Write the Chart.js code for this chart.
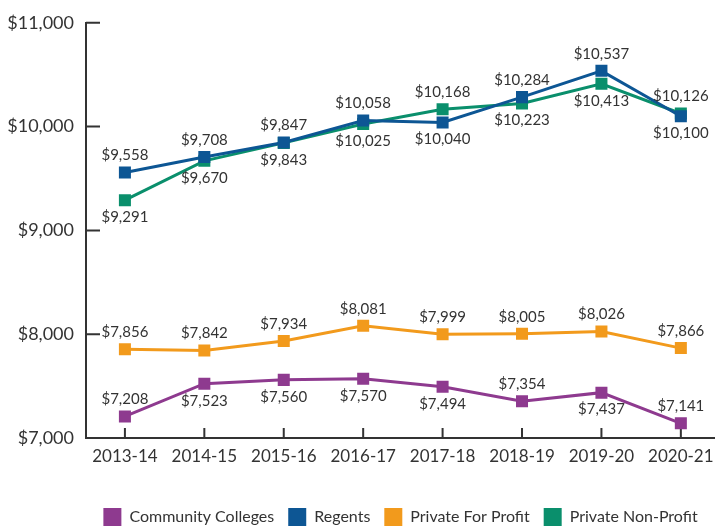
<!DOCTYPE html>
<html>
<head>
<meta charset="utf-8">
<script src="https://cdn.jsdelivr.net/npm/chart.js@4"></script>
<style>
  body { margin: 0; background: #fff; }
  #wrap { width: 715px; height: 529px; }
</style>
</head>
<body>
<div id="wrap"><canvas id="myChart" width="715" height="529"></canvas></div>
<script>
// categories + values
const years = ["2013-14", "2014-15", "2015-16", "2016-17", "2017-18", "2018-19", "2019-20", "2020-21"];
const community = [7208, 7523, 7560, 7570, 7494, 7354, 7437, 7141];
const regents = [9558, 9708, 9847, 10058, 10040, 10284, 10537, 10100];
const forProfit = [7856, 7842, 7934, 8081, 7999, 8005, 8026, 7866];
const nonProfit = [9291, 9670, 9843, 10025, 10168, 10223, 10413, 10126];

// where each value label sits: a = above, b = below
const communityPos = ["a", "b", "b", "b", "b", "a", "b", "a"];
const regentsPos = ["a", "a", "a", "a", "b", "a", "a", "b"];
const forProfitPos = ["a", "a", "a", "a", "a", "a", "a", "a"];
const nonProfitPos = ["b", "b", "b", "b", "a", "b", "b", "a"];

const yTicks = [7000, 8000, 9000, 10000, 11000];

const FONT = "Lato";
const TEXT = "#333333";

function series(label, values, color, pos) {
    return {
        label: label,
        data: values.map((v, i) => ({ x: i, y: v })),
        labelPos: pos,
        borderColor: color,
        backgroundColor: color,
        borderWidth: 3,
        pointStyle: "rect",
        pointRadius: 8.5,
        pointBorderWidth: 0,
        tension: 0
    };
}

// value labels above / below each marker
const valueLabels = {
    id: "valueLabels",
    afterDatasetsDraw(chart) {
        const ctx = chart.ctx;
        ctx.save();
        ctx.font = "15px " + FONT;
        ctx.fillStyle = TEXT;
        ctx.textAlign = "center";
        ctx.textBaseline = "middle";
        chart.data.datasets.forEach((ds, i) => {
            const meta = chart.getDatasetMeta(i);
            meta.data.forEach((pt, j) => {
                const txt = "$" + ds.data[j].y.toLocaleString("en-US");
                const dy = ds.labelPos[j] === "a" ? -17 : 17;
                ctx.fillText(txt, pt.x, pt.y + dy);
            });
        });
        ctx.restore();
    }
};

// tick marks pointing into the plot
const innerTicks = {
    id: "innerTicks",
    beforeDatasetsDraw(chart) {
        const ctx = chart.ctx;
        const area = chart.chartArea;
        const xs = chart.scales.x;
        const ys = chart.scales.y;
        ctx.save();
        ctx.strokeStyle = TEXT;
        ctx.lineWidth = 2;
        ctx.beginPath();
        yTicks.forEach(v => {
            const y = ys.getPixelForValue(v);
            ctx.moveTo(area.left, y);
            ctx.lineTo(area.left + 14, y);
        });
        years.forEach((y, i) => {
            const x = xs.getPixelForValue(i);
            ctx.moveTo(x, area.bottom);
            ctx.lineTo(x, area.bottom - 10);
        });
        ctx.stroke();
        ctx.restore();
    }
};

new Chart("myChart", {
    type: "line",
    data: {
        datasets: [
            series("Community Colleges", community, "#8e3a8f", communityPos),
            series("Regents", regents, "#0d5694", regentsPos),
            series("Private For Profit", forProfit, "#f29a1c", forProfitPos),
            series("Private Non-Profit", nonProfit, "#0a8f6c", nonProfitPos)
        ]
    },
    options: {
        responsive: false,
        animation: false,
        devicePixelRatio: 1,
        events: [],
        layout: { autoPadding: false, padding: { left: 7, top: 21, right: 0, bottom: -7 } },
        scales: {
            x: {
                type: "linear",
                min: -0.49,
                max: 7.43,
                grid: { drawOnChartArea: false, drawTicks: true, tickLength: 8, tickColor: "rgba(0,0,0,0)" },
                border: { color: TEXT, width: 2 },
                afterFit(s) {
                    s.height = 56;
                    s.paddingLeft = 0;
                    s.paddingRight = 0;
                },
                ticks: {
                    stepSize: 1,
                    includeBounds: false,
                    padding: 0,
                    color: TEXT,
                    font: { family: FONT, size: 17 },
                    maxRotation: 0,
                    callback: v => years[v]
                }
            },
            y: {
                min: 7000,
                max: 11000,
                grid: { drawOnChartArea: false, drawTicks: false },
                border: { color: TEXT, width: 2 },
                afterFit(s) { s.width = 79; },
                ticks: {
                    stepSize: 1000,
                    padding: 12,
                    color: TEXT,
                    font: { family: FONT, size: 18 },
                    callback: v => "$" + v.toLocaleString("en-US")
                }
            }
        },
        plugins: {
            tooltip: { enabled: false },
            legend: {
                position: "bottom",
                fullSize: false,
                labels: {
                    boxWidth: 18,
                    boxHeight: 18,
                    padding: 14,
                    color: TEXT,
                    font: { family: FONT, size: 16 },
                    generateLabels: chart => chart.data.datasets.map((ds, i) => ({
                        text: ds.label,
                        fillStyle: ds.backgroundColor,
                        strokeStyle: ds.backgroundColor,
                        lineWidth: 0,
                        fontColor: TEXT,
                        datasetIndex: i
                    }))
                }
            }
        }
    },
    plugins: [innerTicks, valueLabels]
});
</script>
</body>
</html>
